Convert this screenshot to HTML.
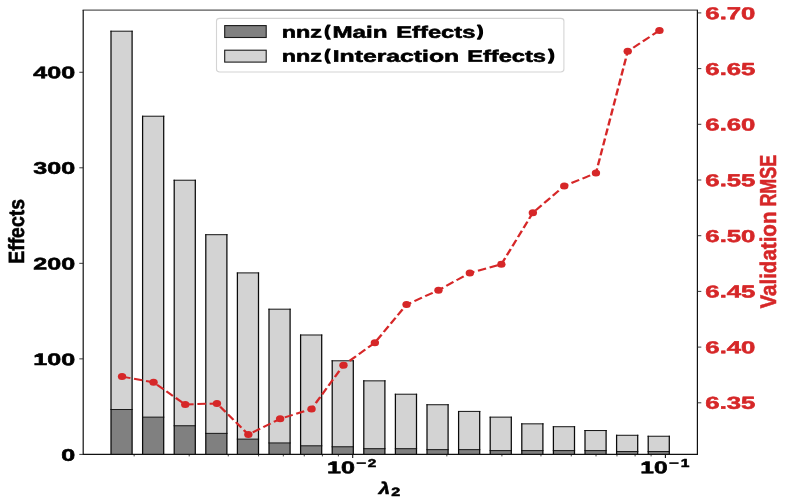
<!DOCTYPE html>
<html><head><meta charset="utf-8"><style>html,body{margin:0;padding:0;background:#fff}</style></head><body><svg width="788" height="504" viewBox="0 0 788 504" style="display:block;font-family:'Liberation Sans',sans-serif;font-weight:bold;text-rendering:geometricPrecision">
<defs><filter id="nf" filterUnits="userSpaceOnUse" x="0" y="0" width="788" height="504"><feOffset dx="0" dy="0"/></filter></defs>
<rect width="788" height="504" fill="#fff"/>
<g filter="url(#nf)">
<rect x="111.00" y="31.20" width="21.1" height="423.20" fill="#d3d3d3"/>
<path d="M110.40,31.20H132.70" stroke="#1c1c1c" stroke-width="1.05" fill="none"/>
<rect x="111.00" y="409.50" width="21.1" height="44.90" fill="#808080"/>
<path d="M110.40,409.50H132.70" stroke="#1c1c1c" stroke-width="1.05" fill="none"/>
<path d="M111.00,454.40V30.70M132.10,454.40V30.70" stroke="#0a0a0a" stroke-width="1.25" fill="none"/>
<rect x="142.60" y="116.22" width="21.1" height="338.18" fill="#d3d3d3"/>
<path d="M142.00,116.22H164.30" stroke="#1c1c1c" stroke-width="1.05" fill="none"/>
<rect x="142.60" y="417.14" width="21.1" height="37.26" fill="#808080"/>
<path d="M142.00,417.14H164.30" stroke="#1c1c1c" stroke-width="1.05" fill="none"/>
<path d="M142.60,454.40V115.72M163.70,454.40V115.72" stroke="#0a0a0a" stroke-width="1.25" fill="none"/>
<rect x="174.20" y="180.23" width="21.1" height="274.17" fill="#d3d3d3"/>
<path d="M173.60,180.23H195.90" stroke="#1c1c1c" stroke-width="1.05" fill="none"/>
<rect x="174.20" y="425.74" width="21.1" height="28.66" fill="#808080"/>
<path d="M173.60,425.74H195.90" stroke="#1c1c1c" stroke-width="1.05" fill="none"/>
<path d="M174.20,454.40V179.73M195.30,454.40V179.73" stroke="#0a0a0a" stroke-width="1.25" fill="none"/>
<rect x="205.80" y="234.68" width="21.1" height="219.72" fill="#d3d3d3"/>
<path d="M205.20,234.68H227.50" stroke="#1c1c1c" stroke-width="1.05" fill="none"/>
<rect x="205.80" y="433.38" width="21.1" height="21.02" fill="#808080"/>
<path d="M205.20,433.38H227.50" stroke="#1c1c1c" stroke-width="1.05" fill="none"/>
<path d="M205.80,454.40V234.18M226.90,454.40V234.18" stroke="#0a0a0a" stroke-width="1.25" fill="none"/>
<rect x="237.40" y="272.89" width="21.1" height="181.51" fill="#d3d3d3"/>
<path d="M236.80,272.89H259.10" stroke="#1c1c1c" stroke-width="1.05" fill="none"/>
<rect x="237.40" y="439.12" width="21.1" height="15.28" fill="#808080"/>
<path d="M236.80,439.12H259.10" stroke="#1c1c1c" stroke-width="1.05" fill="none"/>
<path d="M237.40,454.40V272.39M258.50,454.40V272.39" stroke="#0a0a0a" stroke-width="1.25" fill="none"/>
<rect x="269.00" y="309.19" width="21.1" height="145.21" fill="#d3d3d3"/>
<path d="M268.40,309.19H290.70" stroke="#1c1c1c" stroke-width="1.05" fill="none"/>
<rect x="269.00" y="442.94" width="21.1" height="11.46" fill="#808080"/>
<path d="M268.40,442.94H290.70" stroke="#1c1c1c" stroke-width="1.05" fill="none"/>
<path d="M269.00,454.40V308.69M290.10,454.40V308.69" stroke="#0a0a0a" stroke-width="1.25" fill="none"/>
<rect x="300.60" y="334.99" width="21.1" height="119.41" fill="#d3d3d3"/>
<path d="M300.00,334.99H322.30" stroke="#1c1c1c" stroke-width="1.05" fill="none"/>
<rect x="300.60" y="445.80" width="21.1" height="8.60" fill="#808080"/>
<path d="M300.00,445.80H322.30" stroke="#1c1c1c" stroke-width="1.05" fill="none"/>
<path d="M300.60,454.40V334.49M321.70,454.40V334.49" stroke="#0a0a0a" stroke-width="1.25" fill="none"/>
<rect x="332.20" y="360.78" width="21.1" height="93.62" fill="#d3d3d3"/>
<path d="M331.60,360.78H353.90" stroke="#1c1c1c" stroke-width="1.05" fill="none"/>
<rect x="332.20" y="446.76" width="21.1" height="7.64" fill="#808080"/>
<path d="M331.60,446.76H353.90" stroke="#1c1c1c" stroke-width="1.05" fill="none"/>
<path d="M332.20,454.40V360.28M353.30,454.40V360.28" stroke="#0a0a0a" stroke-width="1.25" fill="none"/>
<rect x="363.80" y="380.84" width="21.1" height="73.56" fill="#d3d3d3"/>
<path d="M363.20,380.84H385.50" stroke="#1c1c1c" stroke-width="1.05" fill="none"/>
<rect x="363.80" y="448.67" width="21.1" height="5.73" fill="#808080"/>
<path d="M363.20,448.67H385.50" stroke="#1c1c1c" stroke-width="1.05" fill="none"/>
<path d="M363.80,454.40V380.34M384.90,454.40V380.34" stroke="#0a0a0a" stroke-width="1.25" fill="none"/>
<rect x="395.40" y="394.22" width="21.1" height="60.18" fill="#d3d3d3"/>
<path d="M394.80,394.22H417.10" stroke="#1c1c1c" stroke-width="1.05" fill="none"/>
<rect x="395.40" y="448.67" width="21.1" height="5.73" fill="#808080"/>
<path d="M394.80,448.67H417.10" stroke="#1c1c1c" stroke-width="1.05" fill="none"/>
<path d="M395.40,454.40V393.72M416.50,454.40V393.72" stroke="#0a0a0a" stroke-width="1.25" fill="none"/>
<rect x="427.00" y="404.72" width="21.1" height="49.68" fill="#d3d3d3"/>
<path d="M426.40,404.72H448.70" stroke="#1c1c1c" stroke-width="1.05" fill="none"/>
<rect x="427.00" y="449.62" width="21.1" height="4.78" fill="#808080"/>
<path d="M426.40,449.62H448.70" stroke="#1c1c1c" stroke-width="1.05" fill="none"/>
<path d="M427.00,454.40V404.22M448.10,454.40V404.22" stroke="#0a0a0a" stroke-width="1.25" fill="none"/>
<rect x="458.60" y="411.41" width="21.1" height="42.99" fill="#d3d3d3"/>
<path d="M458.00,411.41H480.30" stroke="#1c1c1c" stroke-width="1.05" fill="none"/>
<rect x="458.60" y="449.62" width="21.1" height="4.78" fill="#808080"/>
<path d="M458.00,449.62H480.30" stroke="#1c1c1c" stroke-width="1.05" fill="none"/>
<path d="M458.60,454.40V410.91M479.70,454.40V410.91" stroke="#0a0a0a" stroke-width="1.25" fill="none"/>
<rect x="490.20" y="417.14" width="21.1" height="37.26" fill="#d3d3d3"/>
<path d="M489.60,417.14H511.90" stroke="#1c1c1c" stroke-width="1.05" fill="none"/>
<rect x="490.20" y="450.58" width="21.1" height="3.82" fill="#808080"/>
<path d="M489.60,450.58H511.90" stroke="#1c1c1c" stroke-width="1.05" fill="none"/>
<path d="M490.20,454.40V416.64M511.30,454.40V416.64" stroke="#0a0a0a" stroke-width="1.25" fill="none"/>
<rect x="521.80" y="423.83" width="21.1" height="30.57" fill="#d3d3d3"/>
<path d="M521.20,423.83H543.50" stroke="#1c1c1c" stroke-width="1.05" fill="none"/>
<rect x="521.80" y="450.58" width="21.1" height="3.82" fill="#808080"/>
<path d="M521.20,450.58H543.50" stroke="#1c1c1c" stroke-width="1.05" fill="none"/>
<path d="M521.80,454.40V423.33M542.90,454.40V423.33" stroke="#0a0a0a" stroke-width="1.25" fill="none"/>
<rect x="553.40" y="426.70" width="21.1" height="27.70" fill="#d3d3d3"/>
<path d="M552.80,426.70H575.10" stroke="#1c1c1c" stroke-width="1.05" fill="none"/>
<rect x="553.40" y="450.58" width="21.1" height="3.82" fill="#808080"/>
<path d="M552.80,450.58H575.10" stroke="#1c1c1c" stroke-width="1.05" fill="none"/>
<path d="M553.40,454.40V426.20M574.50,454.40V426.20" stroke="#0a0a0a" stroke-width="1.25" fill="none"/>
<rect x="585.00" y="430.52" width="21.1" height="23.88" fill="#d3d3d3"/>
<path d="M584.40,430.52H606.70" stroke="#1c1c1c" stroke-width="1.05" fill="none"/>
<rect x="585.00" y="450.58" width="21.1" height="3.82" fill="#808080"/>
<path d="M584.40,450.58H606.70" stroke="#1c1c1c" stroke-width="1.05" fill="none"/>
<path d="M585.00,454.40V430.02M606.10,454.40V430.02" stroke="#0a0a0a" stroke-width="1.25" fill="none"/>
<rect x="616.60" y="435.29" width="21.1" height="19.11" fill="#d3d3d3"/>
<path d="M616.00,435.29H638.30" stroke="#1c1c1c" stroke-width="1.05" fill="none"/>
<rect x="616.60" y="451.53" width="21.1" height="2.87" fill="#808080"/>
<path d="M616.00,451.53H638.30" stroke="#1c1c1c" stroke-width="1.05" fill="none"/>
<path d="M616.60,454.40V434.79M637.70,454.40V434.79" stroke="#0a0a0a" stroke-width="1.25" fill="none"/>
<rect x="648.20" y="436.25" width="21.1" height="18.15" fill="#d3d3d3"/>
<path d="M647.60,436.25H669.90" stroke="#1c1c1c" stroke-width="1.05" fill="none"/>
<rect x="648.20" y="451.53" width="21.1" height="2.87" fill="#808080"/>
<path d="M647.60,451.53H669.90" stroke="#1c1c1c" stroke-width="1.05" fill="none"/>
<path d="M648.20,454.40V435.75M669.30,454.40V435.75" stroke="#0a0a0a" stroke-width="1.25" fill="none"/>
<g transform="scale(1.2,1)">
<path d="M101.71,376.62 L127.96,382.32 L154.38,404.52 L180.79,403.42 L206.96,434.52 L233.46,418.82 L259.62,408.92 L286.21,365.22 L312.38,342.72 L338.79,304.60 L365.38,290.20 L391.54,272.90 L417.79,264.30 L444.04,212.80 L470.21,185.90 L496.62,173.12 L523.12,51.32 L549.54,30.42" fill="none" stroke="#d62728" stroke-width="2" stroke-dasharray="7.13,3.08" stroke-linejoin="round"/>
<circle cx="101.71" cy="376.62" r="3.5" fill="#d62728"/>
<circle cx="127.96" cy="382.32" r="3.5" fill="#d62728"/>
<circle cx="154.38" cy="404.52" r="3.5" fill="#d62728"/>
<circle cx="180.79" cy="403.42" r="3.5" fill="#d62728"/>
<circle cx="206.96" cy="434.52" r="3.5" fill="#d62728"/>
<circle cx="233.46" cy="418.82" r="3.5" fill="#d62728"/>
<circle cx="259.62" cy="408.92" r="3.5" fill="#d62728"/>
<circle cx="286.21" cy="365.22" r="3.5" fill="#d62728"/>
<circle cx="312.38" cy="342.72" r="3.5" fill="#d62728"/>
<circle cx="338.79" cy="304.60" r="3.5" fill="#d62728"/>
<circle cx="365.38" cy="290.20" r="3.5" fill="#d62728"/>
<circle cx="391.54" cy="272.90" r="3.5" fill="#d62728"/>
<circle cx="417.79" cy="264.30" r="3.5" fill="#d62728"/>
<circle cx="444.04" cy="212.80" r="3.5" fill="#d62728"/>
<circle cx="470.21" cy="185.90" r="3.5" fill="#d62728"/>
<circle cx="496.62" cy="173.12" r="3.5" fill="#d62728"/>
<circle cx="523.12" cy="51.32" r="3.5" fill="#d62728"/>
<circle cx="549.54" cy="30.42" r="3.5" fill="#d62728"/>
</g>
<path d="M83.2,10.1 V454.4 H697.4 V10.1" fill="none" stroke="#111" stroke-width="1.2" stroke-linejoin="miter"/>
<line x1="82.60000000000001" x2="698.0" y1="10.1" y2="10.1" stroke="#222" stroke-width="0.95"/>
<line x1="79.3" x2="83.2" y1="454.40" y2="454.40" stroke="#222" stroke-width="0.9"/>
<text transform="translate(61.156,460.758) rotate(0.02) scale(1.5001,1)" font-size="16.735" fill="#000" stroke="#000" stroke-width="0.55" stroke-linejoin="round">0</text>
<line x1="79.3" x2="83.2" y1="358.87" y2="358.87" stroke="#222" stroke-width="0.9"/>
<text transform="translate(33.233,365.120) rotate(0.02) scale(1.5001,1)" font-size="16.735" fill="#000" stroke="#000" stroke-width="0.55" stroke-linejoin="round">100</text>
<line x1="79.3" x2="83.2" y1="263.34" y2="263.34" stroke="#222" stroke-width="0.9"/>
<text transform="translate(33.233,269.483) rotate(0.02) scale(1.5001,1)" font-size="16.735" fill="#000" stroke="#000" stroke-width="0.55" stroke-linejoin="round">200</text>
<line x1="79.3" x2="83.2" y1="167.81" y2="167.81" stroke="#222" stroke-width="0.9"/>
<text transform="translate(33.233,173.835) rotate(0.02) scale(1.5001,1)" font-size="16.735" fill="#000" stroke="#000" stroke-width="0.55" stroke-linejoin="round">300</text>
<line x1="79.3" x2="83.2" y1="72.28" y2="72.28" stroke="#222" stroke-width="0.9"/>
<text transform="translate(33.233,78.208) rotate(0.02) scale(1.5001,1)" font-size="16.735" fill="#000" stroke="#000" stroke-width="0.55" stroke-linejoin="round">400</text>
<line x1="697.4" x2="701.3" y1="402.80" y2="402.80" stroke="#222" stroke-width="0.9"/>
<text transform="translate(705.366,408.841) rotate(0.02) scale(1.4874,1)" font-size="17.300" fill="#d62728" stroke="#d62728" stroke-width="0.55" stroke-linejoin="round">6.35</text>
<line x1="697.4" x2="701.3" y1="347.10" y2="347.10" stroke="#222" stroke-width="0.9"/>
<text transform="translate(705.366,353.195) rotate(0.02) scale(1.4874,1)" font-size="17.300" fill="#d62728" stroke="#d62728" stroke-width="0.55" stroke-linejoin="round">6.40</text>
<line x1="697.4" x2="701.3" y1="291.40" y2="291.40" stroke="#222" stroke-width="0.9"/>
<text transform="translate(705.366,297.538) rotate(0.02) scale(1.4874,1)" font-size="17.300" fill="#d62728" stroke="#d62728" stroke-width="0.55" stroke-linejoin="round">6.45</text>
<line x1="697.4" x2="701.3" y1="235.70" y2="235.70" stroke="#222" stroke-width="0.9"/>
<text transform="translate(705.366,241.881) rotate(0.02) scale(1.4874,1)" font-size="17.300" fill="#d62728" stroke="#d62728" stroke-width="0.55" stroke-linejoin="round">6.50</text>
<line x1="697.4" x2="701.3" y1="180.00" y2="180.00" stroke="#222" stroke-width="0.9"/>
<text transform="translate(705.366,186.223) rotate(0.02) scale(1.4874,1)" font-size="17.300" fill="#d62728" stroke="#d62728" stroke-width="0.55" stroke-linejoin="round">6.55</text>
<line x1="697.4" x2="701.3" y1="124.30" y2="124.30" stroke="#222" stroke-width="0.9"/>
<text transform="translate(705.366,130.566) rotate(0.02) scale(1.4874,1)" font-size="17.300" fill="#d62728" stroke="#d62728" stroke-width="0.55" stroke-linejoin="round">6.60</text>
<line x1="697.4" x2="701.3" y1="68.60" y2="68.60" stroke="#222" stroke-width="0.9"/>
<text transform="translate(705.366,74.909) rotate(0.02) scale(1.4874,1)" font-size="17.300" fill="#d62728" stroke="#d62728" stroke-width="0.55" stroke-linejoin="round">6.65</text>
<line x1="697.4" x2="701.3" y1="12.90" y2="12.90" stroke="#222" stroke-width="0.9"/>
<text transform="translate(705.366,19.252) rotate(0.02) scale(1.4874,1)" font-size="17.300" fill="#d62728" stroke="#d62728" stroke-width="0.55" stroke-linejoin="round">6.70</text>
<line x1="134.13" x2="134.13" y1="454.4" y2="456.4" stroke="#111" stroke-width="0.8"/>
<line x1="189.20" x2="189.20" y1="454.4" y2="456.4" stroke="#111" stroke-width="0.8"/>
<line x1="228.26" x2="228.26" y1="454.4" y2="456.4" stroke="#111" stroke-width="0.8"/>
<line x1="258.57" x2="258.57" y1="454.4" y2="456.4" stroke="#111" stroke-width="0.8"/>
<line x1="283.33" x2="283.33" y1="454.4" y2="456.4" stroke="#111" stroke-width="0.8"/>
<line x1="304.26" x2="304.26" y1="454.4" y2="456.4" stroke="#111" stroke-width="0.8"/>
<line x1="322.40" x2="322.40" y1="454.4" y2="456.4" stroke="#111" stroke-width="0.8"/>
<line x1="338.39" x2="338.39" y1="454.4" y2="456.4" stroke="#111" stroke-width="0.8"/>
<line x1="352.70" x2="352.70" y1="454.4" y2="458.0" stroke="#111" stroke-width="1.1"/>
<line x1="446.83" x2="446.83" y1="454.4" y2="456.4" stroke="#111" stroke-width="0.8"/>
<line x1="501.90" x2="501.90" y1="454.4" y2="456.4" stroke="#111" stroke-width="0.8"/>
<line x1="540.96" x2="540.96" y1="454.4" y2="456.4" stroke="#111" stroke-width="0.8"/>
<line x1="571.27" x2="571.27" y1="454.4" y2="456.4" stroke="#111" stroke-width="0.8"/>
<line x1="596.03" x2="596.03" y1="454.4" y2="456.4" stroke="#111" stroke-width="0.8"/>
<line x1="616.96" x2="616.96" y1="454.4" y2="456.4" stroke="#111" stroke-width="0.8"/>
<line x1="635.10" x2="635.10" y1="454.4" y2="456.4" stroke="#111" stroke-width="0.8"/>
<line x1="651.09" x2="651.09" y1="454.4" y2="456.4" stroke="#111" stroke-width="0.8"/>
<line x1="665.40" x2="665.40" y1="454.4" y2="458.0" stroke="#111" stroke-width="1.1"/>
<text transform="translate(327.021,473.155) rotate(0.02) scale(1.4796,1)" font-size="17.017" fill="#000" stroke="#000" stroke-width="0.55" stroke-linejoin="round">10</text>
<rect x="356.60" y="462.3" width="9.3" height="1.6" fill="#000"/>
<text transform="translate(367.839,466.625) rotate(0.02) scale(1.3427,1)" font-size="11.388" fill="#000" stroke="#000" stroke-width="0.55" stroke-linejoin="round">2</text>
<text transform="translate(640.348,473.155) rotate(0.02) scale(1.4457,1)" font-size="17.017" fill="#000" stroke="#000" stroke-width="0.55" stroke-linejoin="round">10</text>
<rect x="669.30" y="462.3" width="9.3" height="1.6" fill="#000"/>
<text transform="translate(680.689,466.625) rotate(0.02) scale(1.3499,1)" font-size="11.553" fill="#000" stroke="#000" stroke-width="0.55" stroke-linejoin="round">1</text>
<text transform="translate(378.828,493.725) rotate(0.02) scale(1.2201,1)" font-size="16.587" font-style="italic" fill="#000" stroke="#000" stroke-width="0.55" stroke-linejoin="round">λ</text>
<text transform="translate(391.307,496.225) rotate(0.02) scale(1.3328,1)" font-size="12.104" fill="#000" stroke="#000" stroke-width="0.55" stroke-linejoin="round">2</text>
<text transform="translate(24.105,263.755) rotate(-89.98) scale(0.8824,1)" font-size="21.992" fill="#000" stroke="#000" stroke-width="0.55" stroke-linejoin="round">Effects</text>
<text transform="translate(775.900,308.501) rotate(-89.98) scale(0.9115,1)" font-size="22.536" fill="#d62728" stroke="#d62728" stroke-width="0.55" stroke-linejoin="round">Validation</text>
<text transform="translate(775.894,206.587) rotate(-89.98) scale(0.7776,1)" font-size="23.090" fill="#d62728" stroke="#d62728" stroke-width="0.55" stroke-linejoin="round">RMSE</text>
<rect x="216.5" y="18.4" width="347.4" height="53.55" rx="3.2" ry="2.6" fill="#fff" fill-opacity="0.8" stroke="#d4d4d4" stroke-width="1.1"/>
<rect x="224.7" y="25.6" width="41.5" height="11.9" fill="#808080" stroke="#1a1a1a" stroke-width="1.1"/>
<rect x="224.7" y="50.2" width="41.5" height="11.9" fill="#d3d3d3" stroke="#1a1a1a" stroke-width="1.1"/>
<text transform="translate(281.741,37.625) rotate(0.02) scale(1.4074,1)" font-size="16.639" fill="#000" stroke="#000" stroke-width="0.55" stroke-linejoin="round">nnz</text>
<text transform="translate(324.395,36.155) rotate(0.02) scale(1.1269,1)" font-size="14.916" fill="#000" stroke="#000" stroke-width="1.3" stroke-linejoin="round">(</text>
<text transform="translate(332.481,37.625) rotate(0.02) scale(1.4543,1)" font-size="16.639" fill="#000" stroke="#000" stroke-width="0.55" stroke-linejoin="round">Main</text>
<text transform="translate(396.306,37.625) rotate(0.02) scale(1.4252,1)" font-size="16.639" fill="#000" stroke="#000" stroke-width="0.55" stroke-linejoin="round">Effects</text>
<text transform="translate(477.413,36.155) rotate(0.02) scale(1.1452,1)" font-size="14.916" fill="#000" stroke="#000" stroke-width="1.3" stroke-linejoin="round">)</text>
<text transform="translate(281.741,61.725) rotate(0.02) scale(1.4074,1)" font-size="16.639" fill="#000" stroke="#000" stroke-width="0.55" stroke-linejoin="round">nnz</text>
<text transform="translate(324.395,60.255) rotate(0.02) scale(1.1269,1)" font-size="14.916" fill="#000" stroke="#000" stroke-width="1.3" stroke-linejoin="round">(</text>
<text transform="translate(332.652,61.725) rotate(0.02) scale(1.4893,1)" font-size="16.639" fill="#000" stroke="#000" stroke-width="0.55" stroke-linejoin="round">Interaction</text>
<text transform="translate(467.210,61.725) rotate(0.02) scale(1.4197,1)" font-size="16.639" fill="#000" stroke="#000" stroke-width="0.55" stroke-linejoin="round">Effects</text>
<text transform="translate(548.447,60.255) rotate(0.02) scale(1.1997,1)" font-size="14.916" fill="#000" stroke="#000" stroke-width="1.3" stroke-linejoin="round">)</text>
</g></svg></body></html>
